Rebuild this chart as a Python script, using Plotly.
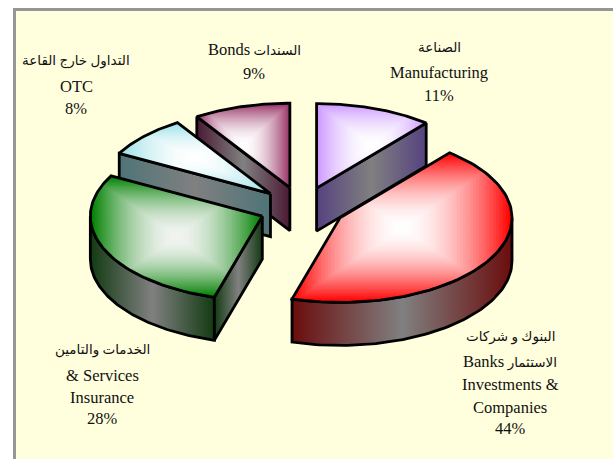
import numpy as np
import plotly.graph_objects as go

# ---- data (slice shares before rounding, clockwise from 12 o'clock)
categories = ["Manufacturing", "Banks", "Services", "OTC", "Bonds"]
values = [11.0, 43.5, 28.4, 8.0, 9.1]
edge_colors = ["#CC99FF", "#FF0000", "#008000", "#99E0E6", "#993366"]
center_colors = ["#FFFFFF", "#FFFFFF", "#F2F4F2", "#FFFFFF", "#FFFFFF"]
wall_colors = ["#55427F", "#6B0C0C", "#123A12", "#4E7478", "#4A1A33"]
draw_order = [4, 0, 3, 2, 1]

LATIN_SPAN = '<span style="font-size:16.5px">%s</span>'
label_lines = [
    ["الصناعة", "Manufacturing", f"{round(values[0])}%"],
    ["البنوك و شركات", LATIN_SPAN % "Banks" + " الاستثمار", "Investments &", "Companies", f"{round(values[1])}%"],
    ["الخدمات والتامين", "& Services", "Insurance", f"{round(values[2])}%"],
    ["التداول خارج القاعة", "OTC", f"{round(values[3])}%"],
    [LATIN_SPAN % "Bonds" + " السندات", f"{round(values[4])}%"],
]
label_x = [439, 510, 102, 76, 254]
label_y = [[47, 72, 95], [337, 361, 384, 407, 428], [350, 375, 397, 418], [61, 86, 108], [49, 73]]

# ---- pie geometry (pixel space of the 613x459 page)
CX, CY, RX, RY, DEPTH, EXPLODE = 302.0, 208.0, 172.0, 84.5, 43.0, 0.25
LEVELS = 34

fig = go.Figure()


def add_poly(xs, ys, **kw):
    fig.add_trace(go.Scatter(x=list(xs), y=list(ys), mode="lines", fill="toself",
                             hoverinfo="skip", showlegend=False, **kw))


def clip_rect(pts, x0, x1, y0, y1):
    def clip(points, inside, cross):
        out = []
        for i in range(len(points)):
            a, b = points[i - 1], points[i]
            if inside(b):
                if not inside(a):
                    out.append(cross(a, b))
                out.append(b)
            elif inside(a):
                out.append(cross(a, b))
        return out

    def at_x(v):
        return lambda a, b: (v, a[1] + (b[1] - a[1]) * (v - a[0]) / (b[0] - a[0]))

    def at_y(v):
        return lambda a, b: (a[0] + (b[0] - a[0]) * (v - a[1]) / (b[1] - a[1]), v)

    pts = clip(pts, lambda p: p[0] >= x0, at_x(x0))
    if pts:
        pts = clip(pts, lambda p: p[0] <= x1, at_x(x1))
    if pts:
        pts = clip(pts, lambda p: p[1] >= y0, at_y(y0))
    if pts:
        pts = clip(pts, lambda p: p[1] <= y1, at_y(y1))
    return pts


def rgb(h):
    return np.array([int(h[i:i + 2], 16) for i in (1, 3, 5)], float)


def mix(c0, c1, t):
    v = rgb(c0) * (1 - t) + rgb(c1) * t
    return f"rgb({v[0]:.0f},{v[1]:.0f},{v[2]:.0f})"


def wall(xs, ys, dark):
    xs, ys = list(xs), list(ys)
    add_poly(xs + [xs[0]], ys + [ys[0]], line=dict(color="black", width=2.8),
             fillgradient=dict(type="horizontal", start=min(xs), stop=max(xs),
                               colorscale=[[0, dark], [0.5, "#808080"], [1, dark]]))


def outline_pts(tipx, tipy, a0, a1, n=80):
    th = np.linspace(a0, a1, n)
    return tipx + RX * np.sin(th), tipy - RY * np.cos(th)


bounds = np.radians(np.concatenate([[0], np.cumsum(values)]) * 3.6)

for i in draw_order:
    a0, a1 = bounds[i], bounds[i + 1]
    mid = (a0 + a1) / 2
    tx = CX + EXPLODE * RX * np.sin(mid)
    ty = CY - EXPLODE * RY * np.cos(mid)
    dark = wall_colors[i]

    # outer rim: only the part facing the viewer
    r0, r1 = max(a0, np.pi / 2), min(a1, 3 * np.pi / 2)
    if r1 > r0:
        ax, ay = outline_pts(tx, ty, r0, r1)
        wall(np.r_[ax, ax[::-1]], np.r_[ay, ay[::-1] + DEPTH], dark)

    # radial walls that face the viewer
    if np.sin(a1) > 0:
        ex, ey = tx + RX * np.sin(a1), ty - RY * np.cos(a1)
        wall([tx, ex, ex, tx], [ty, ey, ey + DEPTH, ty + DEPTH], dark)
    if -np.sin(a0) > 1e-6:
        ex, ey = tx + RX * np.sin(a0), ty - RY * np.cos(a0)
        wall([tx, ex, ex, tx], [ty, ey, ey + DEPTH, ty + DEPTH], dark)

    # top face: rectangular path gradient over its bounding box
    ax, ay = outline_pts(tx, ty, a0, a1)
    px, py = np.r_[tx, ax], np.r_[ty, ay]
    poly = list(zip(px, py))
    x0, x1, y0, y1 = px.min(), px.max(), py.min(), py.max()
    bx, by, hw, hh = (x0 + x1) / 2, (y0 + y1) / 2, (x1 - x0) / 2, (y1 - y0) / 2
    for t in np.linspace(1, 0.02, LEVELS):
        clipped = clip_rect(poly, bx - hw * t, bx + hw * t, by - hh * t, by + hh * t)
        if len(clipped) < 3:
            continue
        cx_, cy_ = zip(*clipped)
        col = mix(center_colors[i], edge_colors[i], t ** 1.8)
        add_poly(list(cx_) + [cx_[0]], list(cy_) + [cy_[0]], fillcolor=col,
                 line=dict(color=col, width=0.5))
    fig.add_trace(go.Scatter(x=np.r_[px, px[0]], y=np.r_[py, py[0]], mode="lines",
                             line=dict(color="black", width=2.8),
                             hoverinfo="skip", showlegend=False))

for lines, x, ys in zip(label_lines, label_x, label_y):
    for text, y in zip(lines, ys):
        arabic = any("\u0600" <= ch <= "\u06ff" for ch in text)
        size = 13.5 if arabic else 16.5
        fig.add_annotation(x=x, y=y, text=text, showarrow=False, xanchor="center", yanchor="middle",
                           font=dict(family="Liberation Serif, DejaVu Sans", size=size, color="#111111"))

fig.update_layout(
    width=613, height=459, margin=dict(l=0, r=0, t=0, b=0),
    paper_bgcolor="white", plot_bgcolor="white", showlegend=False,
    xaxis=dict(range=[0, 613], visible=False, fixedrange=True),
    yaxis=dict(range=[459, 0], visible=False, fixedrange=True),
    shapes=[dict(type="rect", xref="x", yref="y", x0=14.5, y0=9.5, x1=640, y1=480,
                 fillcolor="#FFFFDE", line=dict(color="#969696", width=3), layer="below")],
)

fig.write_html("out.html", config=dict(displayModeBar=False),
               post_script="document.body.style.margin='0';document.body.style.overflow='hidden';")
